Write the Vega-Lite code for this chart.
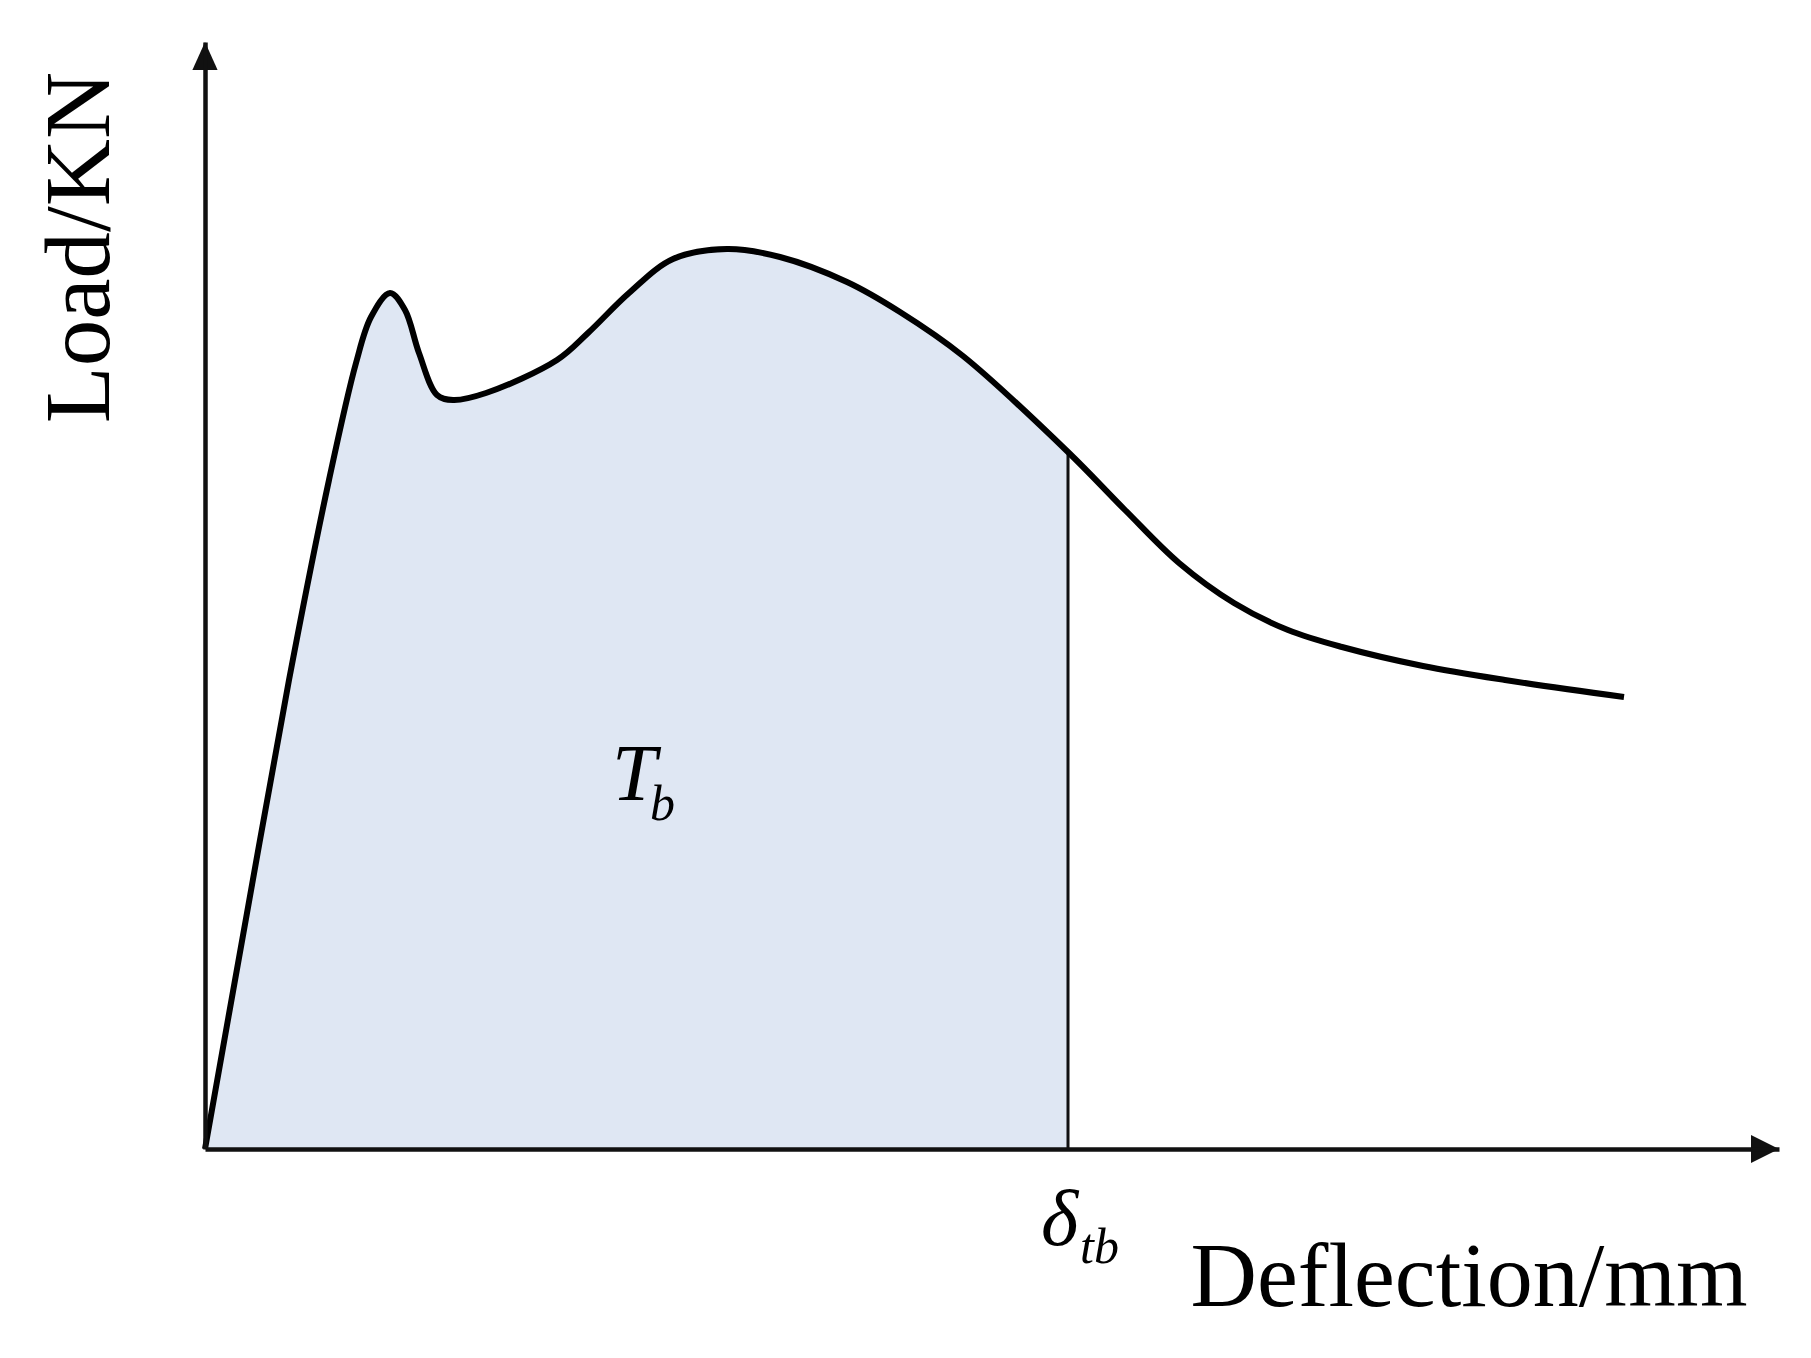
{
  "$schema": "https://vega.github.io/schema/vega-lite/v6.json",
  "width": 1574,
  "height": 1107,
  "autosize": {"type": "none"},
  "padding": {"left": 205, "top": 42, "right": 32, "bottom": 209},
  "background": "white",
  "config": {"view": {"stroke": null}},
  "datasets": {
    "curve": [
      {"deflection": 0, "load": 0},
      {"deflection": 4.2, "load": 23.6},
      {"deflection": 8.4, "load": 46.9},
      {"deflection": 12.4, "load": 66.9},
      {"deflection": 15.1, "load": 78.6},
      {"deflection": 16.6, "load": 83.2},
      {"deflection": 18.5, "load": 85.6},
      {"deflection": 20.0, "load": 83.9},
      {"deflection": 21.4, "load": 79.6},
      {"deflection": 23.2, "load": 75.4},
      {"deflection": 24.8, "load": 74.9},
      {"deflection": 28.1, "load": 75.6},
      {"deflection": 35.2, "load": 78.9},
      {"deflection": 38.3, "load": 81.6},
      {"deflection": 42.4, "load": 85.6},
      {"deflection": 46.8, "load": 89.0},
      {"deflection": 52.2, "load": 90.0},
      {"deflection": 57.5, "load": 89.2},
      {"deflection": 64.2, "load": 86.7},
      {"deflection": 69.5, "load": 83.7},
      {"deflection": 75.8, "load": 79.3},
      {"deflection": 86.3, "load": 69.7},
      {"deflection": 92.0, "load": 63.9},
      {"deflection": 97.4, "load": 58.6},
      {"deflection": 102.9, "load": 54.6},
      {"deflection": 108.3, "load": 51.9},
      {"deflection": 113.7, "load": 50.2},
      {"deflection": 121.8, "load": 48.3},
      {"deflection": 130.0, "load": 46.9},
      {"deflection": 141.9, "load": 45.2}
    ],
    "delta": [{"deflection": 86.3, "load": 69.7}],
    "arrows": [
      {"deflection": 0, "load": 110.7, "dir": "up"},
      {"deflection": 157.4, "load": 0, "dir": "right"}
    ],
    "mainLabels": [
      {"deflection": 40.7, "load": 34.9, "text": "T"},
      {"deflection": 83.6, "load": -9.6, "text": "δ"}
    ],
    "subLabels": [
      {"deflection": 44.5, "load": 32.9, "text": "b"},
      {"deflection": 87.5, "load": -11.4, "text": "tb"}
    ]
  },
  "encoding": {
    "x": {"field": "deflection", "type": "quantitative", "scale": {"domain": [0, 157.4], "nice": false, "zero": false},
      "axis": {"domain": true, "domainColor": "#111", "domainWidth": 4.5, "ticks": false, "labels": false, "grid": false,
        "title": "Deflection/mm", "titleFont": "Liberation Serif", "titleFontSize": 92, "titleFontWeight": "normal", "titleColor": "#000",
        "titleX": 1542, "titleY": 156, "titleAlign": "right", "titleBaseline": "alphabetic", "zindex": 1}},
    "y": {"field": "load", "type": "quantitative", "scale": {"domain": [0, 110.7], "nice": false, "zero": false},
      "axis": {"domain": true, "domainColor": "#111", "domainWidth": 4.5, "ticks": false, "labels": false, "grid": false,
        "title": "Load/KN", "titleFont": "Liberation Serif", "titleFontSize": 93, "titleFontWeight": "normal", "titleColor": "#000",
        "titleAngle": -90, "titleX": -97, "titleY": 205, "titleAlign": "center", "titleBaseline": "alphabetic", "zindex": 1}}
  },
  "layer": [
    {
      "data": {"name": "curve"},
      "transform": [{"filter": "datum.deflection <= 86.3"}],
      "mark": {"type": "area", "interpolate": "catmull-rom", "color": "#DFE7F3", "opacity": 1}
    },
    {
      "data": {"name": "delta"},
      "mark": {"type": "rule", "color": "#111", "strokeWidth": 3},
      "encoding": {"y2": {"datum": 0}}
    },
    {
      "data": {"name": "curve"},
      "mark": {"type": "line", "interpolate": "catmull-rom", "color": "#000", "strokeWidth": 6}
    },
    {
      "data": {"name": "arrows"},
      "mark": {"type": "point", "filled": true, "color": "#111", "opacity": 1, "strokeWidth": 0, "size": 3136},
      "encoding": {
        "shape": {"field": "dir", "type": "nominal", "legend": null,
          "scale": {"domain": ["up", "right"], "range": ["M0,0L0.45,1L-0.45,1Z", "M0,0L-1,0.5L-1,-0.5Z"]}}
      }
    },
    {
      "data": {"name": "mainLabels"},
      "mark": {"type": "text", "font": "Liberation Serif", "fontStyle": "italic", "fontSize": 80, "align": "left", "baseline": "alphabetic", "color": "#000"},
      "encoding": {"text": {"field": "text"}}
    },
    {
      "data": {"name": "subLabels"},
      "mark": {"type": "text", "font": "Liberation Serif", "fontStyle": "italic", "fontSize": 50, "align": "left", "baseline": "alphabetic", "color": "#000"},
      "encoding": {"text": {"field": "text"}}
    }
  ]
}
